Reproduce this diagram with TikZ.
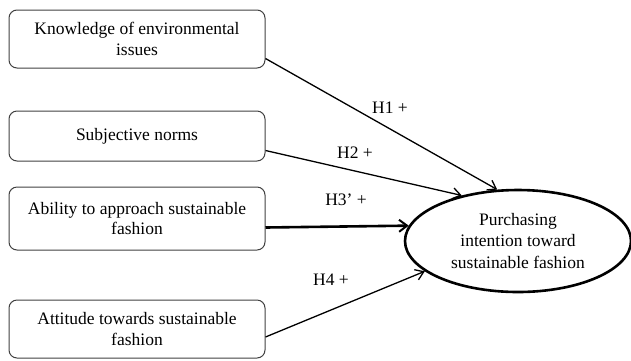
\documentclass[tikz,border=0pt]{standalone}
\usepackage{fontspec}
\setmainfont{Liberation Serif}
\usetikzlibrary{shapes.geometric,arrows.meta,calc}
\begin{document}
\begin{tikzpicture}[x=1pt,y=-1pt,
  factor/.style={draw=black!75,line width=1pt,rounded corners=8pt,minimum width=256pt,align=center,inner sep=0pt,font=\fontsize{17.5}{20.5}\selectfont},
  outcome/.style={ellipse,draw,line width=2.6pt,minimum width=226pt,minimum height=102pt,align=center,inner sep=0pt,font=\fontsize{17.5}{21.5}\selectfont},
  link/.style={-{Straight Barb[length=8pt,width=11pt,line width=1.3pt]},line width=1.3pt},
  biglink/.style={-{Straight Barb[length=8pt,width=12pt,line width=2pt]},line width=2.6pt},
  hyp/.style={font=\fontsize{17.5}{20}\selectfont,inner sep=0pt}]
\useasboundingbox (0,0) rectangle (631,360);
\node[factor,minimum height=58pt] (b1) at (137,39) {Knowledge of environmental\\issues};
\node[factor,minimum height=50pt] (b2) at (137,136) {Subjective norms};
\node[factor,minimum height=63pt] (b3) at (137,218.5) {Ability to approach sustainable\\fashion};
\node[factor,minimum height=58pt] (b4) at (137,329) {Attitude towards sustainable\\fashion};
\node[outcome] (e) at (518,241) {Purchasing\\intention toward\\sustainable fashion};
\draw[link] ($(b1.south east)+(0,-10)$) -- (e.112);
\draw[link] ($(b2.south east)+(0,-11)$) -- (e.141);
\draw[biglink] ($(b3.east)+(0,9)$) -- (e.172);
\draw[link] ($(b4.east)+(0,8)$) -- (e.198);
\node[hyp] (h1) at (390,108) {H1 +};
\node[hyp] (h2) at (355,153) {H2 +};
\node[hyp] (h3) at (346,200) {H3’ +};
\node[hyp] (h4) at (331,280) {H4 +};
\end{tikzpicture}
\end{document}
